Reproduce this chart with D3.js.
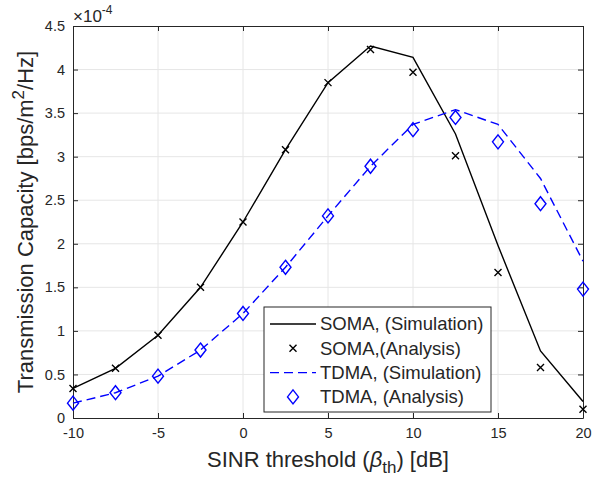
<!DOCTYPE html>
<html>
<head>
<meta charset="utf-8">
<script src="https://cdn.jsdelivr.net/npm/d3@7"></script>
<style>
  body { margin: 0; background: #fff; }
  svg text { font-family: "Liberation Sans", Arial, sans-serif; fill: #262626; }
</style>
</head>
<body>
<div id="chart"></div>
<script>
// SINR threshold values (dB)
const sinr = [-10, -7.5, -5, -2.5, 0, 2.5, 5, 7.5, 10, 12.5, 15, 17.5, 20];
// values in units of 1e-4 bps/m^2/Hz
const somaSim = [0.34, 0.57, 0.95, 1.5, 2.25, 3.08, 3.85, 4.27, 4.14, 3.26, 1.98, 0.77, 0.19];
const somaAna = [0.34, 0.57, 0.95, 1.5, 2.25, 3.08, 3.85, 4.23, 3.97, 3.01, 1.67, 0.58, 0.10];
const tdmaSim = [0.17, 0.29, 0.48, 0.78, 1.2, 1.73, 2.32, 2.89, 3.37, 3.54, 3.37, 2.75, 1.8];
const tdmaAna = [0.17, 0.29, 0.48, 0.78, 1.2, 1.73, 2.32, 2.89, 3.31, 3.45, 3.17, 2.46, 1.48];
const xTicks = [-10, -5, 0, 5, 10, 15, 20];
const yTicks = [0, 0.5, 1, 1.5, 2, 2.5, 3, 3.5, 4, 4.5];
const legendLabels = ['SOMA, (Simulation)', 'SOMA,(Analysis)', 'TDMA, (Simulation)', 'TDMA, (Analysis)'];

const width = 596, height = 480;
const margin = { top: 26, right: 13, bottom: 62, left: 73 };
const innerW = width - margin.left - margin.right;
const innerH = height - margin.top - margin.bottom;
const axisColor = '#262626';

const svg = d3.select('#chart').append('svg')
    .attr('width', width)
    .attr('height', height);

const x = d3.scaleLinear().domain([-10, 20]).range([0, innerW]);
const y = d3.scaleLinear().domain([0, 4.5]).range([innerH, 0]);

const g = svg.append('g').attr('transform', `translate(${margin.left},${margin.top})`);

// grid
g.append('g').selectAll('line').data(xTicks.slice(1, -1)).join('line')
    .attr('x1', d => x(d)).attr('x2', d => x(d))
    .attr('y1', 0).attr('y2', innerH)
    .attr('stroke', '#e6e6e6').attr('stroke-width', 1);
g.append('g').selectAll('line').data(yTicks.slice(1, -1)).join('line')
    .attr('y1', d => y(d)).attr('y2', d => y(d))
    .attr('x1', 0).attr('x2', innerW)
    .attr('stroke', '#e6e6e6').attr('stroke-width', 1);

// axes (ticks point inward, box on all sides)
function styleAxis(sel) {
    sel.select('.domain').attr('stroke', axisColor);
    sel.selectAll('.tick line').attr('stroke', axisColor);
    sel.selectAll('.tick text').attr('fill', axisColor)
        .style('font-size', '14.5px').style('font-family', '"Liberation Sans", Arial, sans-serif');
}
const fmt = d => String(d);
g.append('g').attr('transform', `translate(0,${innerH})`)
    .call(d3.axisBottom(x).tickValues(xTicks).tickFormat(fmt).tickSizeInner(-5).tickSizeOuter(0).tickPadding(10))
    .call(styleAxis);
g.append('g')
    .call(d3.axisTop(x).tickValues(xTicks).tickFormat('').tickSizeInner(-5).tickSizeOuter(0))
    .call(styleAxis);
g.append('g')
    .call(d3.axisLeft(y).tickValues(yTicks).tickFormat(fmt).tickSizeInner(-5).tickSizeOuter(0).tickPadding(8))
    .call(styleAxis);
g.append('g').attr('transform', `translate(${innerW},0)`)
    .call(d3.axisRight(y).tickValues(yTicks).tickFormat('').tickSizeInner(-5).tickSizeOuter(0))
    .call(styleAxis);

// exponent label
const expo = svg.append('text').attr('x', margin.left).attr('y', 22).style('font-size', '17px');
expo.append('tspan').text('\u00d710');
expo.append('tspan').attr('dy', -8).style('font-size', '12px').text('-4');

// lines
const line = d3.line().x((d, i) => x(sinr[i])).y(d => y(d));
g.append('path').datum(somaSim)
    .attr('d', line).attr('fill', 'none').attr('stroke', '#000').attr('stroke-width', 1.4);
g.append('path').datum(tdmaSim)
    .attr('d', line).attr('fill', 'none').attr('stroke', '#0000ff').attr('stroke-width', 1.4)
    .attr('stroke-dasharray', '9,5');

// markers
const cross = 'M-3.5,-3.5L3.5,3.5M-3.5,3.5L3.5,-3.5';
const diamond = 'M0,-7L5.5,0L0,7L-5.5,0Z';
g.append('g').selectAll('path').data(somaAna).join('path')
    .attr('transform', (d, i) => `translate(${x(sinr[i])},${y(d)})`)
    .attr('d', cross).attr('stroke', '#000').attr('stroke-width', 1.4).attr('fill', 'none');
g.append('g').selectAll('path').data(tdmaAna).join('path')
    .attr('transform', (d, i) => `translate(${x(sinr[i])},${y(d)})`)
    .attr('d', diamond).attr('stroke', '#0000ff').attr('stroke-width', 1.4).attr('fill', 'none');

// legend
const leg = svg.append('g').attr('transform', 'translate(264,307)');
leg.append('rect').attr('width', 227).attr('height', 105)
    .attr('fill', '#fff').attr('stroke', axisColor).attr('stroke-width', 1);
const rows = leg.selectAll('g.row').data(legendLabels).join('g')
    .attr('class', 'row')
    .attr('transform', (d, i) => `translate(0,${17 + i * 24.3})`);
rows.append('text').attr('x', 56).attr('dy', '0.35em').style('font-size', '18.5px').text(d => d);
rows.filter((d, i) => i === 0).append('line')
    .attr('x1', 6).attr('x2', 52).attr('stroke', '#000').attr('stroke-width', 1.4);
rows.filter((d, i) => i === 1).append('path')
    .attr('transform', 'translate(29,0)').attr('d', cross)
    .attr('stroke', '#000').attr('stroke-width', 1.4).attr('fill', 'none');
rows.filter((d, i) => i === 2).append('line')
    .attr('x1', 6).attr('x2', 52).attr('stroke', '#0000ff').attr('stroke-width', 1.4)
    .attr('stroke-dasharray', '9,5');
rows.filter((d, i) => i === 3).append('path')
    .attr('transform', 'translate(29,0)').attr('d', diamond)
    .attr('stroke', '#0000ff').attr('stroke-width', 1.4).attr('fill', 'none');

// axis labels
const xl = svg.append('text')
    .attr('x', margin.left + innerW / 2).attr('y', 467)
    .attr('text-anchor', 'middle').style('font-size', '22px');
xl.append('tspan').text('SINR threshold (');
xl.append('tspan').style('font-style', 'italic').text('\u03b2');
xl.append('tspan').attr('dy', 6).style('font-size', '17px').text('th');
xl.append('tspan').attr('dy', -6).text(') [dB]');

const yl = svg.append('text')
    .attr('transform', `translate(33,${margin.top + innerH / 2}) rotate(-90)`)
    .attr('text-anchor', 'middle').style('font-size', '22px');
yl.append('tspan').text('Transmission Capacity [bps/m');
yl.append('tspan').attr('dy', -9).style('font-size', '17px').text('2');
yl.append('tspan').attr('dy', 9).text('/Hz]');
</script>
</body>
</html>
